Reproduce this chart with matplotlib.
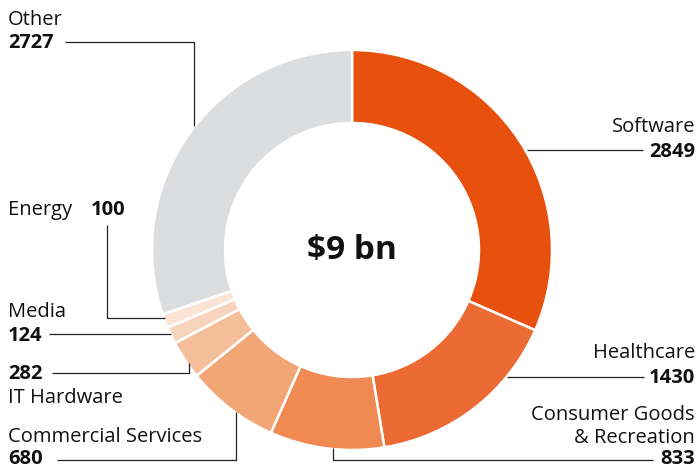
import matplotlib
matplotlib.use("Agg")
import matplotlib.pyplot as plt

labels = ["Software", "Healthcare", "Consumer Goods\n& Recreation", "Commercial Services",
          "IT Hardware", "Media", "Energy", "Other"]
values = [2849, 1430, 833, 680, 282, 124, 100, 2727]
colors = ["#E8500E", "#EC6B35", "#F08A52", "#F2A575", "#F5BE9A", "#F8D4BC", "#FBE4D6", "#DCDDDF"]
total_label = "$9 bn"

plt.rcParams["font.family"] = ["Open Sans", "DejaVu Sans"]

W, H = 700, 469
fig = plt.figure(figsize=(7, 4.69), dpi=100)
ax = fig.add_axes([0, 0, 1, 1])


def Y(p):
    # pixel row (from top) -> data y
    return H - p


cx, cy, r = 352, 250, 200
ax.pie(values, colors=colors, startangle=90, counterclock=False,
       center=(cx, Y(cy)), radius=r, frame=True,
       wedgeprops=dict(width=73, edgecolor="white", linewidth=1.8))
ax.set_xlim(0, W)
ax.set_ylim(0, H)
ax.set_aspect("equal")
ax.axis("off")

ax.text(cx, Y(cy), total_label.replace("$", r"\$"), ha="center", va="center",
        fontsize=24, fontweight="bold", color="#111111")

fs = 14.5
lc = "#222222"
lw = 0.9


def name(x, yb, s, ha="left"):
    ax.text(x, Y(yb), s, ha=ha, va="baseline", fontsize=fs, color="#111111")


def num(x, yb, v, ha="left"):
    ax.text(x, Y(yb), str(v), ha=ha, va="baseline", fontsize=fs,
            fontweight="bold", color="#111111")


def leader(xs, ys):
    ax.plot(xs, [Y(v) for v in ys], color=lc, lw=lw, solid_capstyle="butt")


# Other
name(8, 25, labels[7])
num(8, 48, values[7])
leader([65, 194, 194], [42, 42, 126])

# Software
name(695, 132, labels[0], ha="right")
num(695, 157, values[0], ha="right")
leader([527, 643], [150, 150])

# Healthcare
name(695, 358, labels[1], ha="right")
num(695, 383, values[1], ha="right")
leader([507, 644], [377, 377])

# Consumer Goods & Recreation
name(695, 420, "Consumer Goods", ha="right")
name(695, 443, "& Recreation", ha="right")
num(695, 464, values[2], ha="right")
leader([333, 333, 653], [448, 460, 460])

# Energy
name(8, 215, labels[6])
num(91, 215, values[6])
leader([107, 107, 165], [225, 318, 318])

# Media
name(8, 317, labels[5])
num(8, 341, values[5])
leader([49, 171], [334, 334])

# IT Hardware
num(8, 379, values[4])
name(8, 403, labels[4])
leader([52, 189, 189], [373, 373, 363])

# Commercial Services
name(8, 442, labels[3])
num(8, 464, values[3])
leader([57, 236, 236], [460, 460, 412])

fig.savefig("out.png", dpi=100)
